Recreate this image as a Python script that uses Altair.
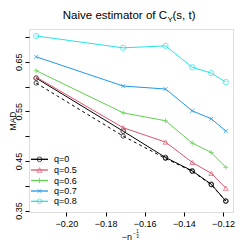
import altair as alt
import pandas as pd

# ---- data ----
n_values = [100, 200, 300, 400, 500, 600]
q_labels = ["q=0", "q=0.5", "q=0.6", "q=0.7", "q=0.8"]
mad_q0 = [0.617, 0.510, 0.457, 0.430, 0.403, 0.369]
mad_q05 = [0.619, 0.517, 0.488, 0.447, 0.425, 0.395]
mad_q06 = [0.632, 0.547, 0.531, 0.486, 0.467, 0.437]
mad_q07 = [0.660, 0.601, 0.595, 0.551, 0.535, 0.510]
mad_q08 = [0.702, 0.678, 0.682, 0.639, 0.627, 0.609]
mad_ref = [0.607, 0.500, 0.455, 0.429, 0.402, 0.369]
colors = ["#000000", "#DF536B", "#61D04F", "#2297E6", "#28E2E5"]
PLUS = "M-1,0L1,0M0,-1L0,1"
CROSS = "M-0.8,-0.8L0.8,0.8M-0.8,0.8L0.8,-0.8"
shapes = ["circle", "triangle-up", PLUS, CROSS, "circle"]
sizes = [22, 28, 30, 22, 22]
x_ticks = [-0.20, -0.18, -0.16, -0.14, -0.12]
y_ticks = [0.35, 0.40, 0.45, 0.50, 0.55, 0.60, 0.65, 0.70]
y_labels = ["0.35", "0.45", "0.55", "0.65"]

FONT = "Liberation Sans"
W, H = 204, 183

series_values = [mad_q0, mad_q05, mad_q06, mad_q07, mad_q08]
rows = []
for lab, vals in zip(q_labels, series_values):
    for n, v in zip(n_values, vals):
        rows.append({"n": n, "series": lab, "mad": v})
df = pd.DataFrame(rows)
df_ref = pd.DataFrame({"n": n_values, "mad": mad_ref})

xscale = alt.Scale(domain=[-0.2191, -0.1149], nice=False, zero=False)
yscale = alt.Scale(domain=[0.347, 0.716], nice=False, zero=False)

xaxis = alt.Axis(values=x_ticks, format=".2f", title=None, domain=False, grid=False,
                 tickSize=4, tickColor="#000", labelFont=FONT, labelFontSize=9,
                 labelColor="#000", labelPadding=3)
label_list = "[" + ",".join("'%s'" % s for s in y_labels) + "]"
yaxis = alt.Axis(values=y_ticks, title=None, domain=False, grid=False,
                 tickSize=4, tickColor="#000", labelFont=FONT, labelFontSize=9,
                 labelColor="#000", labelPadding=2, labelAngle=270,
                 labelAlign="center", labelBaseline="bottom",
                 labelExpr="indexof(" + label_list + ", format(datum.value, '.2f')) >= 0 ? format(datum.value, '.2f') : ''")

X = alt.X("x:Q", scale=xscale, axis=xaxis)
Y = alt.Y("mad:Q", scale=yscale, axis=yaxis)
color = alt.Color("series:N", scale=alt.Scale(domain=q_labels, range=colors), legend=None)
shape = alt.Shape("series:N", scale=alt.Scale(domain=q_labels, range=shapes), legend=None)
size = alt.Size("series:N", scale=alt.Scale(domain=q_labels, range=sizes), legend=None)

base = alt.Chart(df).transform_calculate(x="-pow(datum.n, -1/3)")
lines = base.mark_line(strokeWidth=1).encode(x=X, y=Y, color=color, detail="series:N")
points = base.mark_point(filled=False, strokeWidth=1).encode(x=X, y=Y, color=color, shape=shape, size=size)

ref = alt.Chart(df_ref).transform_calculate(x="-pow(datum.n, -1/3)")
ref_line = ref.mark_line(strokeWidth=1, color="#000", strokeDash=[3, 3]).encode(x=X, y=Y)
ref_pts = ref.mark_point(filled=False, strokeWidth=1, color="#000", size=18, shape="circle").encode(x=X, y=Y)

layers = [ref_line, ref_pts, lines, points]

def txt(s, x, y, size, align="left", baseline="alphabetic", angle=0):
    return alt.Chart(pd.DataFrame({"t": [s]})).mark_text(
        font=FONT, fontSize=size, align=align, baseline=baseline, angle=angle, color="#000"
    ).encode(text="t:N", x=alt.value(x), y=alt.value(y))

# title: Naive estimator of C_Y(s, t)
layers.append(txt("Naive estimator of C", 138, -10, 11.5, align="right"))
layers.append(txt("Y", 138.5, -7.5, 8))
layers.append(txt("(s, t)", 143.5, -10, 11.5))
# x-axis title: -n^{-1/3}
layers.append(txt("\u2212n", 103, 211, 9, align="right"))
layers.append(txt("\u2212", 104, 206, 5))
layers.append(txt("1", 108.5, 204, 4.5, align="center"))
layers.append(txt("3", 108.5, 209, 4.5, align="center"))
# y-axis title
layers.append(txt("MAD", -20.5, 92, 8.5, align="center", baseline="top", angle=270))

# legend (manual, line + symbol)
leg_y = [130.3, 141.0, 151.5, 162.0, 172.3]
for lab, col, shp, sz, ly in zip(q_labels, colors, shapes, sizes, leg_y):
    one = pd.DataFrame({"t": [lab]})
    layers.append(alt.Chart(one).mark_rule(color=col, strokeWidth=1.3).encode(
        x=alt.value(2), x2=alt.value(19), y=alt.value(ly)))
    layers.append(alt.Chart(one).mark_point(filled=False, color=col, strokeWidth=1, shape=shp, size=sz).encode(
        x=alt.value(10.5), y=alt.value(ly)))
    layers.append(txt(lab, 25, ly, 9, baseline="middle"))

chart = alt.layer(*layers).properties(
    width=W, height=H,
    autosize=alt.AutoSizeParams(type="none"),
    padding={"left": 21, "top": 21, "right": 8, "bottom": 34},
).configure_view(stroke="#333", strokeWidth=1).configure(background="white")

chart.save("out.html", embed_options={"renderer": "svg", "actions": False})
